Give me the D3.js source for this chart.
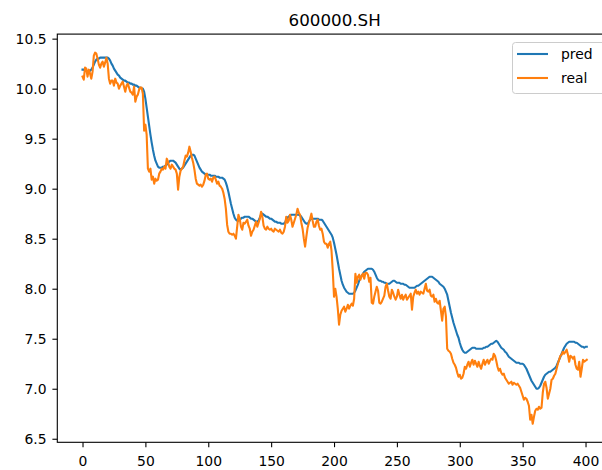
<!DOCTYPE html>
<html>
<head>
<meta charset="utf-8">
<script src="https://cdn.jsdelivr.net/npm/d3@7"></script>
<style>
  html, body { margin: 0; padding: 0; background: #ffffff; }
  svg { display: block; font-family: "DejaVu Sans", sans-serif; }
</style>
</head>
<body>
<svg id="chart" width="602" height="470"></svg>
<script>
// Chart title and series names
const chartTitle = "600000.SH";
const seriesNames = ["pred", "real"];

// Tick labels
const xTicks = [0, 50, 100, 150, 200, 250, 300, 350, 400];
const yTicks = [6.5, 7.0, 7.5, 8.0, 8.5, 9.0, 9.5, 10.0, 10.5];

// Model prediction, one value per trading day (day 0 .. 401)
const pred = [
  10.19, 10.19, 10.18, 10.18, 10.17, 10.17, 10.18, 10.19, 10.21, 10.24,
  10.27, 10.29, 10.30, 10.30, 10.31, 10.31, 10.31, 10.31, 10.31, 10.31,
  10.31, 10.30, 10.28, 10.25, 10.23, 10.20, 10.18, 10.16, 10.14, 10.13,
  10.11, 10.10, 10.09, 10.08, 10.08, 10.07, 10.06, 10.06, 10.05, 10.05,
  10.04, 10.04, 10.03, 10.03, 10.02, 10.01, 10.01, 10.00, 10.00, 9.97,
  9.90, 9.81, 9.72, 9.63, 9.54, 9.46, 9.39, 9.33, 9.28, 9.25,
  9.22, 9.21, 9.21, 9.21, 9.22, 9.22, 9.23, 9.24, 9.26, 9.27,
  9.28, 9.28, 9.28, 9.27, 9.26, 9.24, 9.22, 9.20, 9.19, 9.20,
  9.21, 9.23, 9.25, 9.27, 9.29, 9.31, 9.33, 9.34, 9.34, 9.33,
  9.30, 9.27, 9.24, 9.21, 9.19, 9.17, 9.16, 9.15, 9.14, 9.14,
  9.14, 9.14, 9.13, 9.13, 9.13, 9.13, 9.12, 9.12, 9.12, 9.11,
  9.11, 9.11, 9.10, 9.09, 9.06, 9.02, 8.97, 8.91, 8.85, 8.80,
  8.75, 8.71, 8.69, 8.68, 8.68, 8.69, 8.70, 8.71, 8.71, 8.72,
  8.72, 8.72, 8.72, 8.71, 8.70, 8.70, 8.69, 8.68, 8.67, 8.67,
  8.68, 8.71, 8.74, 8.75, 8.74, 8.73, 8.72, 8.72, 8.71, 8.70,
  8.70, 8.69, 8.68, 8.67, 8.67, 8.66, 8.66, 8.66, 8.65, 8.65,
  8.65, 8.66, 8.69, 8.71, 8.72, 8.73, 8.74, 8.74, 8.74, 8.74,
  8.74, 8.74, 8.74, 8.73, 8.72, 8.70, 8.68, 8.66, 8.65, 8.65,
  8.67, 8.69, 8.70, 8.70, 8.70, 8.70, 8.70, 8.70, 8.69, 8.69,
  8.69, 8.68, 8.66, 8.64, 8.62, 8.60, 8.58, 8.56, 8.54, 8.51,
  8.46, 8.40, 8.34, 8.27, 8.20, 8.14, 8.08, 8.04, 8.01, 7.99,
  7.97, 7.96, 7.95, 7.95, 7.95, 7.95, 7.96, 7.98, 8.01, 8.04,
  8.08, 8.11, 8.13, 8.15, 8.17, 8.18, 8.19, 8.20, 8.20, 8.20,
  8.20, 8.19, 8.17, 8.14, 8.11, 8.09, 8.08, 8.08, 8.07, 8.07,
  8.06, 8.06, 8.05, 8.05, 8.05, 8.06, 8.07, 8.08, 8.08, 8.07,
  8.06, 8.06, 8.06, 8.05, 8.05, 8.05, 8.04, 8.04, 8.03, 8.02,
  8.01, 8.01, 8.01, 8.01, 8.01, 8.02, 8.03, 8.03, 8.04, 8.05,
  8.06, 8.07, 8.08, 8.09, 8.10, 8.11, 8.12, 8.12, 8.12, 8.11,
  8.10, 8.09, 8.08, 8.07, 8.05, 8.04, 8.03, 8.02, 8.00, 7.97,
  7.94, 7.88, 7.82, 7.76, 7.71, 7.66, 7.62, 7.58, 7.54, 7.51,
  7.46, 7.42, 7.39, 7.37, 7.36, 7.36, 7.37, 7.38, 7.39, 7.40,
  7.41, 7.41, 7.41, 7.40, 7.40, 7.40, 7.40, 7.40, 7.40, 7.41,
  7.41, 7.42, 7.42, 7.43, 7.44, 7.45, 7.45, 7.46, 7.47, 7.48,
  7.47, 7.45, 7.43, 7.41, 7.40, 7.39, 7.37, 7.36, 7.34, 7.32,
  7.31, 7.30, 7.29, 7.28, 7.27, 7.26, 7.26, 7.26, 7.25, 7.25,
  7.25, 7.24, 7.22, 7.20, 7.17, 7.14, 7.11, 7.08, 7.06, 7.04,
  7.02, 7.00, 7.00, 7.01, 7.03, 7.06, 7.09, 7.12, 7.14, 7.15,
  7.16, 7.17, 7.17, 7.18, 7.19, 7.20, 7.21, 7.23, 7.26, 7.29,
  7.32, 7.35, 7.38, 7.41, 7.43, 7.45, 7.46, 7.47, 7.47, 7.47,
  7.47, 7.47, 7.46, 7.46, 7.45, 7.44, 7.43, 7.42, 7.42, 7.41,
  7.42, 7.42
];

// Actual closing price, one value per trading day (day 0 .. 401)
const real = [
  10.12, 10.09, 10.21, 10.20, 10.12, 10.19, 10.15, 10.10, 10.17, 10.33,
  10.36, 10.35, 10.30, 10.24, 10.21, 10.25, 10.27, 10.22, 10.26, 10.31,
  10.25, 10.10, 10.05, 10.08, 10.08, 10.03, 10.10, 10.06, 10.05, 10.00,
  10.03, 10.05, 10.07, 10.02, 9.97, 10.03, 10.05, 10.01, 9.97, 9.96,
  9.94, 10.02, 9.87, 9.92, 9.94, 9.99, 10.01, 10.01, 9.95, 9.58,
  9.64, 9.54, 9.20, 9.17, 9.20, 9.09, 9.12, 9.05, 9.10, 9.08,
  9.09, 9.15, 9.17, 9.20, 9.19, 9.22, 9.20, 9.30, 9.27, 9.22,
  9.20, 9.24, 9.22, 9.20, 9.19, 9.15, 8.99, 9.12, 9.18, 9.20,
  9.22, 9.28, 9.33, 9.32, 9.36, 9.42, 9.37, 9.31, 9.26, 9.19,
  9.10, 9.05, 9.04, 9.03, 9.04, 9.02, 9.04, 9.08, 9.14, 9.15,
  9.10, 9.09, 9.10, 9.07, 9.11, 9.12, 9.09, 9.05, 9.07, 9.03,
  9.02, 9.00, 8.96, 8.90, 8.80, 8.64, 8.57, 8.55, 8.55, 8.54,
  8.55, 8.53, 8.50, 8.62, 8.74, 8.70, 8.62, 8.59, 8.66, 8.65,
  8.67, 8.69, 8.63, 8.60, 8.53, 8.57, 8.59, 8.63, 8.67, 8.62,
  8.66, 8.70, 8.77, 8.72, 8.63, 8.60, 8.59, 8.62, 8.60, 8.59,
  8.60, 8.58, 8.57, 8.60, 8.59, 8.58, 8.57, 8.59, 8.56, 8.55,
  8.57, 8.62, 8.72, 8.66, 8.68, 8.74, 8.69, 8.62, 8.66, 8.70,
  8.74, 8.80, 8.76, 8.74, 8.66, 8.60, 8.50, 8.42, 8.52, 8.61,
  8.66, 8.70, 8.75, 8.68, 8.62, 8.62, 8.67, 8.69, 8.63, 8.59,
  8.60, 8.55, 8.47, 8.45, 8.45, 8.41, 8.45, 8.47, 8.38, 8.18,
  7.92, 8.00, 7.92, 7.80, 7.64, 7.74, 7.78, 7.80, 7.82, 7.77,
  7.80, 7.84, 7.80, 7.83, 7.85, 7.83, 7.90, 8.15, 8.06, 8.12,
  8.14, 8.09, 8.13, 8.15, 8.10, 8.16, 8.16, 8.14, 8.07, 8.11,
  7.86, 7.85, 7.92, 7.97, 8.02, 7.98, 7.86, 7.85, 7.87, 7.90,
  7.93, 8.02, 8.05, 7.98, 7.92, 7.90, 7.99, 7.96, 7.92, 7.89,
  7.92, 7.99, 7.94, 7.90, 7.94, 7.89, 7.92, 7.94, 7.89, 7.91,
  7.93, 7.95, 7.79, 7.92, 7.96, 7.99, 7.95, 7.97, 7.94, 7.97,
  7.96, 7.95, 8.00, 8.05, 7.98, 7.97, 7.99, 7.93, 7.92, 7.94,
  7.87, 7.90, 7.86, 7.85, 7.88, 7.78, 7.68, 7.80, 7.82, 7.72,
  7.40, 7.38, 7.37, 7.35, 7.30, 7.26, 7.24, 7.21, 7.16, 7.12,
  7.14, 7.10, 7.11, 7.15, 7.22, 7.20, 7.24, 7.27, 7.22, 7.26,
  7.29, 7.24, 7.28, 7.25, 7.22, 7.27, 7.23, 7.20, 7.25, 7.29,
  7.24, 7.27, 7.29, 7.25, 7.28, 7.30, 7.29, 7.35, 7.33, 7.28,
  7.22, 7.18, 7.20, 7.16, 7.14, 7.15, 7.11, 7.09, 7.07, 7.05,
  7.06, 7.07, 7.04, 7.06, 7.05, 7.04, 7.05, 7.03, 7.01, 6.97,
  6.93, 6.89, 6.91, 6.90, 6.87, 6.83, 6.69, 6.74, 6.65, 6.72,
  6.78, 6.80, 6.79, 6.82, 6.80, 6.81, 6.96, 7.05, 7.07, 7.01,
  6.90, 6.95, 7.00, 7.09, 7.10, 7.13, 7.15, 7.20, 7.25, 7.29,
  7.33, 7.34, 7.37, 7.35, 7.37, 7.39, 7.34, 7.27, 7.33, 7.32,
  7.30, 7.32, 7.24, 7.20, 7.19, 7.27, 7.12, 7.20, 7.29, 7.27,
  7.28, 7.29
];

const colors = ["#1f77b4", "#ff7f0e"];

// Plot frame (matplotlib-style axes box)
const frame = { left: 57.3, right: 612, top: 34.1, bottom: 442.3 };
const svg = d3.select("#chart");

const x = d3.scaleLinear().domain([-20.05, 421.05]).range([frame.left, frame.right]);
const y = d3.scaleLinear().domain([6.4645, 10.5455]).range([frame.bottom, frame.top]);

const tickFont = "13.9px";

// Y axis
const yAxis = svg.append("g")
  .attr("transform", `translate(${frame.left},0)`)
  .call(d3.axisLeft(y).tickValues(yTicks).tickFormat(d3.format(".1f"))
    .tickSize(4.9).tickSizeOuter(0).tickPadding(5.9));
yAxis.select(".domain").remove();

// X axis
const xAxis = svg.append("g")
  .attr("transform", `translate(0,${frame.bottom})`)
  .call(d3.axisBottom(x).tickValues(xTicks).tickFormat(d3.format("d"))
    .tickSize(4.9).tickSizeOuter(0).tickPadding(8.8));
xAxis.select(".domain").remove();

svg.selectAll(".tick line").attr("stroke", "#000").attr("stroke-width", 1.1);
svg.selectAll(".tick text")
  .attr("fill", "#000")
  .style("font-size", tickFont)
  .style("font-family", "'DejaVu Sans', sans-serif");

// Clip lines to the axes box
svg.append("clipPath").attr("id", "plot-clip")
  .append("rect")
  .attr("x", frame.left).attr("y", frame.top)
  .attr("width", frame.right - frame.left)
  .attr("height", frame.bottom - frame.top);

const line = d3.line()
  .x((d, i) => x(i))
  .y(d => y(d));

const plot = svg.append("g").attr("clip-path", "url(#plot-clip)");
[pred, real].forEach((series, k) => {
  plot.append("path")
    .datum(series)
    .attr("fill", "none")
    .attr("stroke", colors[k])
    .attr("stroke-width", 2.1)
    .attr("stroke-linejoin", "round")
    .attr("stroke-linecap", "square")
    .attr("d", line);
});

// Axes spines
svg.append("rect")
  .attr("x", frame.left).attr("y", frame.top)
  .attr("width", frame.right - frame.left)
  .attr("height", frame.bottom - frame.top)
  .attr("fill", "none")
  .attr("stroke", "#000")
  .attr("stroke-width", 1.1);

// Title
svg.append("text")
  .attr("x", (frame.left + frame.right) / 2)
  .attr("y", 26)
  .attr("text-anchor", "middle")
  .attr("fill", "#000")
  .style("font-size", "16.7px")
  .text(chartTitle);

// Legend (upper right)
const legend = svg.append("g");
legend.append("rect")
  .attr("x", 512.5).attr("y", 42.5)
  .attr("width", 95).attr("height", 51)
  .attr("rx", 3).attr("ry", 3)
  .attr("fill", "#ffffff").attr("fill-opacity", 0.8)
  .attr("stroke", "#cccccc").attr("stroke-width", 1);

seriesNames.forEach((name, k) => {
  const cy = 54 + k * 24;
  legend.append("line")
    .attr("x1", 517).attr("x2", 548)
    .attr("y1", cy).attr("y2", cy)
    .attr("stroke", colors[k]).attr("stroke-width", 2.1);
  legend.append("text")
    .attr("x", 561).attr("y", cy + 5)
    .attr("fill", "#000")
    .style("font-size", tickFont)
    .text(name);
});
</script>
</body>
</html>
